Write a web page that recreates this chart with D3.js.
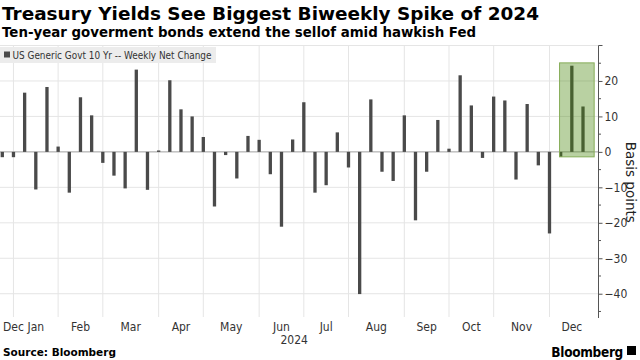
<!DOCTYPE html>
<html><head><meta charset="utf-8">
<script src="https://cdn.jsdelivr.net/npm/d3@7"></script>
<style>
html,body{margin:0;padding:0;background:#fff;}
svg{display:block;}
</style></head>
<body>
<svg id="c" width="640" height="360"></svg>
<script>
const weeks = ["2023-12-22","2023-12-29","2024-01-05","2024-01-12","2024-01-19","2024-01-26","2024-02-02","2024-02-09","2024-02-16","2024-02-23","2024-03-01","2024-03-08","2024-03-15","2024-03-22","2024-03-29","2024-04-05","2024-04-12","2024-04-19","2024-04-26","2024-05-03","2024-05-10","2024-05-17","2024-05-24","2024-05-31","2024-06-07","2024-06-14","2024-06-21","2024-06-28","2024-07-05","2024-07-12","2024-07-19","2024-07-26","2024-08-02","2024-08-09","2024-08-16","2024-08-23","2024-08-30","2024-09-06","2024-09-13","2024-09-20","2024-09-27","2024-10-04","2024-10-11","2024-10-18","2024-10-25","2024-11-01","2024-11-08","2024-11-15","2024-11-22","2024-11-29","2024-12-06","2024-12-13","2024-12-20"];
const netChange = [-1.5,-1.5,16.7,-10.6,18.3,1.5,-11.5,15.4,10.3,-3.1,-6.7,-10.3,23.2,-10.7,0.4,20.2,12.0,10.0,4.2,-15.4,-0.9,-7.5,4.5,3.4,-6.3,-21.1,3.5,14.0,-11.5,-9.4,5.5,-4.4,-40.1,14.8,-5.6,-8.2,10.3,-19.3,-5.6,9.0,0.9,21.6,13.1,-1.7,15.6,14.5,-7.8,13.5,-3.8,-23.0,-1.4,24.3,12.8];
const yTicks = [30,20,10,0,-10,-20,-30,-40];
const highlightWeeks = ["2024-12-06","2024-12-20"];
const title = "Treasury Yields See Biggest Biweekly Spike of 2024";
const subtitle = "Ten-year goverment bonds extend the sellof amid hawkish Fed";
const legendLabel = "US Generic Govt 10 Yr -- Weekly Net Change";
const yearLabel = "2024";
const axisTitle = "Basis points";
const source = "Source: Bloomberg";

const parse = d3.utcParse("%Y-%m-%d");
const data = weeks.map((w,i)=>({date:parse(w), v:netChange[i]}));
const svg = d3.select("#c");
const font = "'DejaVu Sans', Verdana, sans-serif";
const condFont = "'DejaVu Sans Condensed','DejaVu Sans', sans-serif";

const plotTop = 45.5, plotBottom = 315, axisX = 598.5;
const x = d3.scaleUtc().domain([data[0].date, data[data.length-1].date]).range([2.3, 583]);
const y = d3.scaleLinear().domain([-46, 30]).range([plotBottom, plotTop]);
const step = x(data[1].date) - x(data[0].date);

// horizontal gridlines
svg.append("g").selectAll("line").data(yTicks.filter(d=>d!==0)).join("line")
  .attr("x1",0).attr("x2",axisX).attr("y1",d=>y(d)).attr("y2",d=>y(d))
  .attr("stroke","#e5e5e5").attr("stroke-width",1);

// month-end gridlines: last week of each month
const monthEnds = data.filter((d,i)=> i<data.length-1 && data[i+1].date.getUTCMonth()!==d.date.getUTCMonth()).map(d=>d.date);
const nextEnd = d3.utcFriday.offset(data[data.length-1].date, 1);
svg.append("g").selectAll("line").data(monthEnds).join("line")
  .attr("x1",d=>x(d)).attr("x2",d=>x(d)).attr("y1",plotTop).attr("y2",plotBottom+2)
  .attr("stroke","#e5e5e5").attr("stroke-width",1);

// legend box
const lg = svg.append("g");
lg.append("rect").attr("x",0).attr("y",47).attr("width",216).attr("height",16).attr("fill","#ececec");
lg.append("rect").attr("x",4).attr("y",51.5).attr("width",6).attr("height",6).attr("fill","#4a4a4a");
lg.append("text").attr("x",12.5).attr("y",59).attr("font-family",condFont).attr("font-size",11)
  .attr("fill","#333").attr("textLength",199).attr("lengthAdjust","spacingAndGlyphs").text(legendLabel);

// zero line
svg.append("line").attr("x1",0).attr("x2",axisX).attr("y1",y(0)).attr("y2",y(0))
  .attr("stroke","#a0a0a0").attr("stroke-width",1);

// bars
const bw = 3.3;
svg.append("g").selectAll("rect").data(data).join("rect")
  .attr("x",d=>x(d.date)-bw/2).attr("width",bw)
  .attr("y",d=>y(Math.max(0,d.v))).attr("height",d=>Math.abs(y(d.v)-y(0)))
  .attr("fill","#4a4a4a");

// highlight box
const hl = data.filter(d=>d.date>=parse(highlightWeeks[0]) && d.date<=parse(highlightWeeks[1]));
const hMax = d3.max(hl,d=>d.v), hMin = d3.min(hl,d=>d.v);
svg.append("rect")
  .attr("x", x(hl[0].date)-0.1*step).attr("width", x(hl[hl.length-1].date)+step - (x(hl[0].date)-0.1*step))
  .attr("y", y(hMax+0.8)).attr("height", y(hMin) - y(hMax+0.8))
  .attr("fill","rgb(70,135,10)").attr("fill-opacity",0.38)
  .attr("stroke","#86ad58").attr("stroke-width",1);

// right axis
const ax = d3.axisRight(y).tickValues(yTicks.filter(d=>d<30)).tickSize(4).tickPadding(2).tickFormat(d3.format("d"));
const axG = svg.append("g").attr("transform",`translate(${axisX},0)`).call(ax);
axG.select(".domain").remove();
axG.append("line").attr("x1",0).attr("x2",0).attr("y1",plotTop).attr("y2",plotBottom+3).attr("stroke","#555");
axG.selectAll(".tick line").attr("stroke","#555");
axG.selectAll(".tick text").attr("font-family",condFont).attr("font-size",12).attr("fill","#333");
const minor = d3.range(-45, 31, 5).filter(d=>d%10!==0);
axG.append("g").selectAll("line").data(minor.concat([30])).join("line")
  .attr("x1",0).attr("x2",d=>d===30?4:2.5).attr("y1",d=>y(d)).attr("y2",d=>y(d)).attr("stroke","#555");

svg.append("text").attr("transform",`translate(625.5,${(plotTop+plotBottom)/2 + 2}) rotate(90)`)
  .attr("text-anchor","middle").attr("font-family",font).attr("font-size",13.5).attr("fill","#222").text(axisTitle);

// month labels
const bounds = monthEnds.concat([nextEnd]);
const fmt = d3.utcFormat("%b");
const mg = svg.append("g").attr("font-family",condFont).attr("font-size",12).attr("fill","#333");
mg.append("text").attr("x",3).attr("y",331).text(fmt(data[0].date));
for (let i=0;i<bounds.length-1;i++){
  const mid = (x(bounds[i])+x(bounds[i+1]))/2;
  mg.append("text").attr("x",mid).attr("y",331).attr("text-anchor","middle").text(fmt(d3.utcDay.offset(bounds[i],7)));
}
mg.append("text").attr("x",x(d3.utcDay.offset(data[0].date,183))).attr("y",344).attr("text-anchor","middle").text(yearLabel);

// titles
svg.append("text").attr("x",2).attr("y",20).attr("font-family",font).attr("font-weight","bold")
  .attr("font-size",18).attr("fill","#000").attr("textLength",537).attr("lengthAdjust","spacingAndGlyphs").text(title);
svg.append("text").attr("x",2).attr("y",37).attr("font-family",font).attr("font-weight","bold")
  .attr("font-size",13.5).attr("fill","#000").attr("textLength",474).attr("lengthAdjust","spacingAndGlyphs").text(subtitle);

svg.append("text").attr("x",3).attr("y",356).attr("font-family",font).attr("font-weight","bold")
  .attr("font-size",10.5).attr("fill","#000").text(source);
svg.append("text").attr("x",623).attr("y",357).attr("text-anchor","end").attr("font-family",condFont).attr("font-weight","bold")
  .attr("font-size",13.5).attr("fill","#000").attr("letter-spacing",-0.3).text("Bloomberg");
svg.append("rect").attr("x",627).attr("y",346).attr("width",9).attr("height",9).attr("fill","#000");
</script>
</body></html>
